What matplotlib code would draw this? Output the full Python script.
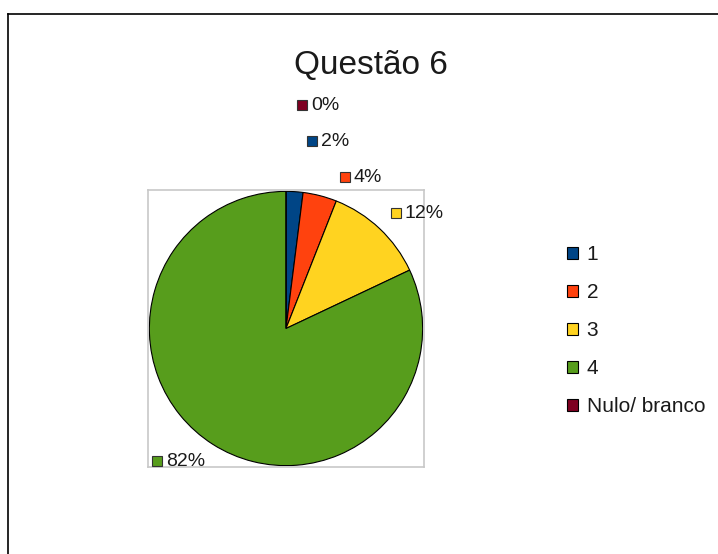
import matplotlib
matplotlib.use("Agg")
import matplotlib.pyplot as plt
from matplotlib.patches import Rectangle
from matplotlib.lines import Line2D

plt.rcParams['font.family'] = ['Liberation Sans', 'DejaVu Sans']

# data
categories = ['1', '2', '3', '4', 'Nulo/ branco']
values = [2, 4, 12, 82, 0]
pct_labels = ['2%', '4%', '12%', '82%', '0%']
colors = ['#004586', '#ff420e', '#ffd320', '#579d1c', '#7e0021']

W, H = 718, 554
fig = plt.figure(figsize=(W / 100, H / 100), dpi=100)

def fx(px):
    return px / W

def fy(py):
    return 1 - py / H

# outer frame (top + left)
fig.add_artist(Line2D([fx(8), 1.0], [fy(14), fy(14)], color='black', lw=1.2))
fig.add_artist(Line2D([fx(8), fx(8)], [fy(14), 0.0], color='black', lw=1.2))

fig.text(fx(371), fy(66), 'Questão 6', ha='center', va='center',
         fontsize=24, color='#1a1a1a')

# pie area
ax = fig.add_axes([fx(148), fy(467), fx(424) - fx(148), fy(190) - fy(467)])
wedges, _ = ax.pie(values, colors=colors, startangle=90, counterclock=False,
                   radius=1.0, wedgeprops=dict(edgecolor='black', linewidth=0.8))
for w in wedges:
    w.set_clip_on(False)
ax.set_frame_on(True)
ax.set_xlim(-1.01, 1.01)
ax.set_ylim(-1.01, 1.01)
ax.set_aspect('auto')
for s in ax.spines.values():
    s.set_visible(True)
    s.set_color('#c8c8c8')
    s.set_linewidth(1.2)
ax.set_xticks([])
ax.set_yticks([])

# data labels with colour keys (pixel positions of marker)
label_pos = [(312, 141), (345, 177), (396, 213), (157, 461), (302, 105)]
msz = 10
for (px, py), lab, c in zip(label_pos, pct_labels, colors):
    fig.add_artist(Rectangle((fx(px - msz / 2), fy(py + msz / 2)),
                             msz / W, msz / H, transform=fig.transFigure,
                             facecolor=c, edgecolor='#333333', lw=0.8))
    fig.text(fx(px + 9), fy(py), lab, ha='left', va='center',
             fontsize=14, color='#1a1a1a')

fig.legend(wedges, categories, loc='upper left',
           bbox_to_anchor=(fx(557), fy(235)), frameon=False,
           fontsize=15, handlelength=0.52, handleheight=0.52,
           handletextpad=0.4, labelspacing=0.91, borderpad=0,
           labelcolor='#1a1a1a')

fig.savefig('out.png', dpi=100)
